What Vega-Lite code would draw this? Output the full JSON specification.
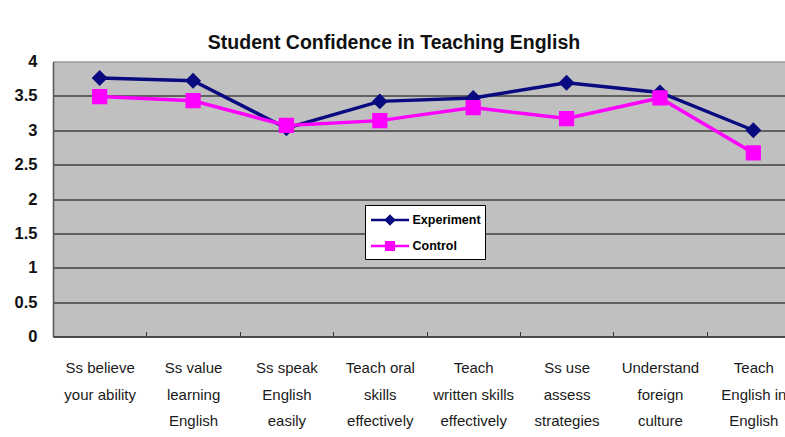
{
  "$schema": "https://vega.github.io/schema/vega-lite/v6.json",
  "width": 732,
  "height": 275,
  "autosize": {"type": "none"},
  "padding": {"left": 53, "top": 61.5, "right": 0, "bottom": 100.5},
  "background": "white",
  "title": {
    "text": "Student Confidence in Teaching English",
    "font": "Liberation Sans",
    "fontSize": 19.5,
    "fontWeight": "bold",
    "color": "#111111",
    "anchor": "middle",
    "frame": "group",
    "dx": -25,
    "offset": -15,
    "baseline": "alphabetic"
  },
  "config": {
    "view": {"fill": "#C0C0C0", "stroke": "#9a9a9a", "strokeWidth": 1}
  },
  "data": {
    "values": [
      {"cat": "Ss believe|your ability", "series": "Experiment", "value": 3.76},
      {"cat": "Ss value|learning|English", "series": "Experiment", "value": 3.72},
      {"cat": "Ss speak|English|easily", "series": "Experiment", "value": 3.03},
      {"cat": "Teach oral|skills|effectively", "series": "Experiment", "value": 3.42},
      {"cat": "Teach|written skills|effectively", "series": "Experiment", "value": 3.47},
      {"cat": "Ss use|assess|strategies", "series": "Experiment", "value": 3.69},
      {"cat": "Understand|foreign|culture", "series": "Experiment", "value": 3.55},
      {"cat": "Teach|English in|English", "series": "Experiment", "value": 3.0},
      {"cat": "Ss believe|your ability", "series": "Control", "value": 3.49},
      {"cat": "Ss value|learning|English", "series": "Control", "value": 3.43},
      {"cat": "Ss speak|English|easily", "series": "Control", "value": 3.07},
      {"cat": "Teach oral|skills|effectively", "series": "Control", "value": 3.14},
      {"cat": "Teach|written skills|effectively", "series": "Control", "value": 3.33},
      {"cat": "Ss use|assess|strategies", "series": "Control", "value": 3.17},
      {"cat": "Understand|foreign|culture", "series": "Control", "value": 3.47},
      {"cat": "Teach|English in|English", "series": "Control", "value": 2.67}
    ]
  },
  "encoding": {
    "x": {
      "field": "cat",
      "type": "nominal",
      "sort": null,
      "scale": {"type": "band", "range": [0, 747], "paddingInner": 0, "paddingOuter": 0},
      "axis": {
        "title": null,
        "labelAngle": 0,
        "labelExpr": "isValid(datum.value) ? split(datum.value, '|') : ''",
        "labelFont": "Liberation Sans",
        "labelFontSize": 15,
        "labelColor": "#1a1a1a",
        "labelLineHeight": 26.5,
        "labelBaseline": "top",
        "labelPadding": 29,
        "labelOverlap": false,
        "tickBand": "extent",
        "tickSize": -5,
        "tickColor": "#333333",
        "domainColor": "#444444",
        "domainWidth": 1.5,
        "grid": false
      }
    },
    "y": {
      "field": "value",
      "type": "quantitative",
      "scale": {"domain": [0, 4], "nice": false, "zero": true},
      "axis": {
        "title": null,
        "values": [0, 0.5, 1, 1.5, 2, 2.5, 3, 3.5, 4],
        "format": "~g",
        "labelFont": "Liberation Sans",
        "labelFontWeight": "bold",
        "labelFontSize": 16.5,
        "labelColor": "#111111",
        "labelPadding": 16,
        "ticks": false,
        "domainColor": "#555555",
        "domainWidth": 1.5,
        "grid": true,
        "gridColor": {"condition": {"test": "datum.value == 4", "value": "#9a9a9a"}, "value": "#000000"},
        "gridWidth": 1,
        "gridOpacity": 1
      }
    },
    "color": {
      "field": "series",
      "type": "nominal",
      "scale": {"domain": ["Experiment", "Control"], "range": ["#0a0a80", "#ff00ff"]},
      "legend": {
        "title": null,
        "orient": "none",
        "legendX": 312,
        "legendY": 143.5,
        "fillColor": "white",
        "strokeColor": "#000000",
        "padding": 4,
        "rowPadding": 6,
        "labelFont": "Liberation Sans",
        "labelFontWeight": "bold",
        "labelFontSize": 12.5,
        "labelColor": "#000000",
        "labelOffset": 11.5,
        "symbolOffset": 10,
        "symbolSize": 361,
        "symbolStrokeWidth": 2.5,
        "encode": {
          "symbols": {
            "update": {
              "shape": {"scale": "shape", "field": "value"},
              "fill": {"scale": "color", "field": "value"},
              "stroke": {"scale": "color", "field": "value"},
              "strokeWidth": {"value": 2.5},
              "size": {"value": 361},
              "opacity": {"value": 1}
            }
          }
        }
      }
    }
  },
  "layer": [
    {
      "mark": {"type": "line", "strokeWidth": 3.5}
    },
    {
      "mark": {"type": "point", "filled": true, "opacity": 1, "size": 1444},
      "encoding": {
        "shape": {
          "field": "series",
          "type": "nominal",
          "scale": {
            "domain": ["Experiment", "Control"],
            "range": ["M-2,0H2M0,-0.42L0.42,0L0,0.42L-0.42,0Z", "M-2,0H2M-0.4,-0.4H0.4V0.4H-0.4Z"]
          },
          "legend": {
            "title": null,
            "orient": "none",
            "legendX": 312,
            "legendY": 143.5,
            "fillColor": "white",
            "strokeColor": "#000000",
            "padding": 4,
            "rowPadding": 6,
            "labelFont": "Liberation Sans",
            "labelFontWeight": "bold",
            "labelFontSize": 12.5,
            "labelColor": "#000000",
            "labelOffset": 11.5,
            "symbolOffset": 10,
            "symbolSize": 361
          }
        }
      }
    }
  ]
}
